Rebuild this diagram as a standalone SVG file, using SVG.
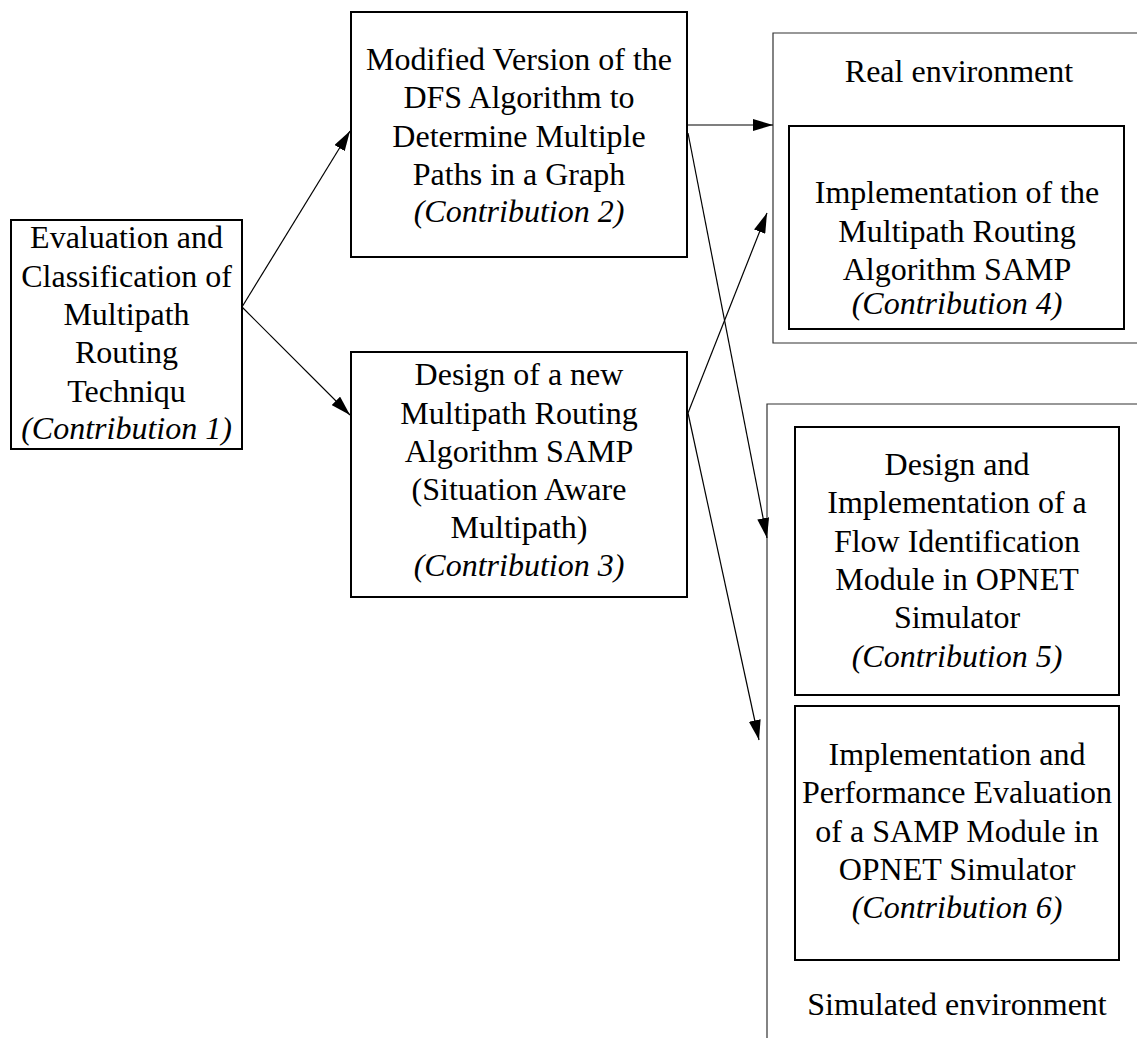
<svg xmlns="http://www.w3.org/2000/svg" width="1137" height="1038" viewBox="0 0 1137 1038">
<style>
.box{fill:#fff;stroke:#000;stroke-width:2}
.cont{fill:none;stroke:#333;stroke-width:1.2}
.edge{fill:none;stroke:#000;stroke-width:1.2}
text{font-family:"Liberation Serif","Times New Roman",serif;font-size:32px;fill:#000;text-anchor:middle}
.it{font-style:italic}
</style>
<defs>
<marker id="arr" markerUnits="userSpaceOnUse" markerWidth="20" markerHeight="12" refX="20" refY="6" orient="auto">
<path d="M0,0 L20,6 L0,12 z" fill="#000"/>
</marker>
</defs>
<rect width="1137" height="1038" fill="#fff"/>
<g id="real-env">
<path class="cont" d="M1137,33 H773 V343 H1137"/>
<text x="959" y="82">Real environment</text>
</g>
<g id="sim-env">
<path class="cont" d="M1137,404 H767 V1038"/>
<text x="957" y="1015">Simulated environment</text>
</g>
<g id="c1">
<rect class="box" x="11" y="220" width="231" height="229"/>
<text x="126.5" y="248">Evaluation and</text>
<text x="126.5" y="287">Classification of</text>
<text x="126.5" y="325">Multipath</text>
<text x="126.5" y="363">Routing</text>
<text x="126.5" y="402">Techniqu</text>
<text x="126.5" y="439" class="it">(Contribution 1)</text>
</g>
<g id="c2">
<rect class="box" x="351" y="12" width="336" height="245"/>
<text x="519" y="70">Modified Version of the</text>
<text x="519" y="108">DFS Algorithm to</text>
<text x="519" y="147">Determine Multiple</text>
<text x="519" y="185">Paths in a Graph</text>
<text x="519" y="222" class="it">(Contribution 2)</text>
</g>
<g id="c3">
<rect class="box" x="351" y="352" width="336" height="245"/>
<text x="519" y="385">Design of a new</text>
<text x="519" y="424">Multipath Routing</text>
<text x="519" y="462">Algorithm SAMP</text>
<text x="519" y="500">(Situation Aware</text>
<text x="519" y="538">Multipath)</text>
<text x="519" y="576" class="it">(Contribution 3)</text>
</g>
<g id="c4">
<rect class="box" x="789" y="126" width="335" height="203"/>
<text x="957" y="203">Implementation of the</text>
<text x="957" y="242">Multipath Routing</text>
<text x="957" y="280">Algorithm SAMP</text>
<text x="957" y="314" class="it">(Contribution 4)</text>
</g>
<g id="c5">
<rect class="box" x="795" y="427" width="324" height="268"/>
<text x="957" y="475">Design and</text>
<text x="957" y="513">Implementation of a</text>
<text x="957" y="552">Flow Identification</text>
<text x="957" y="590">Module in OPNET</text>
<text x="957" y="628">Simulator</text>
<text x="957" y="667" class="it">(Contribution 5)</text>
</g>
<g id="c6">
<rect class="box" x="795" y="706" width="324" height="254"/>
<text x="957" y="765">Implementation and</text>
<text x="957" y="803">Performance Evaluation</text>
<text x="957" y="842">of a SAMP Module in</text>
<text x="957" y="880">OPNET Simulator</text>
<text x="957" y="918" class="it">(Contribution 6)</text>
</g>
<g id="connectors">
<line class="edge" x1="242" y1="307" x2="350" y2="131" marker-end="url(#arr)"/>
<line class="edge" x1="242" y1="307" x2="350" y2="415" marker-end="url(#arr)"/>
<line class="edge" x1="688" y1="125" x2="773" y2="125" marker-end="url(#arr)"/>
<line class="edge" x1="688" y1="133" x2="767" y2="538" marker-end="url(#arr)"/>
<line class="edge" x1="688" y1="413" x2="767" y2="213" marker-end="url(#arr)"/>
<line class="edge" x1="688" y1="413" x2="759" y2="740" marker-end="url(#arr)"/>
</g>
</svg>
